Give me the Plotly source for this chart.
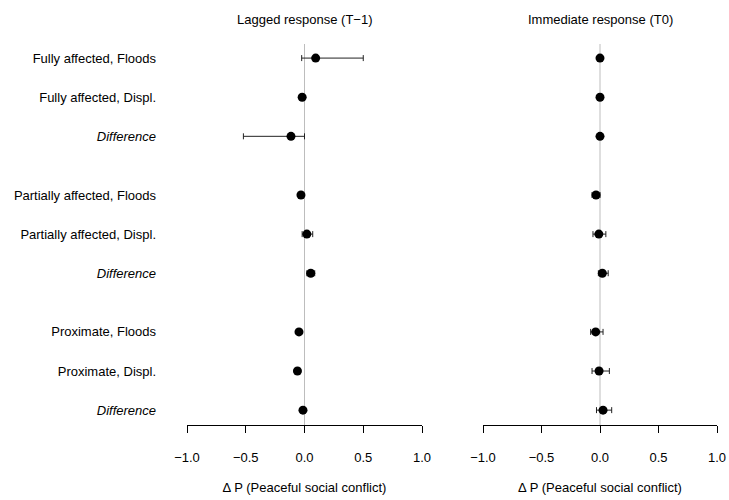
import plotly.graph_objects as go

labels = ["Fully affected, Floods", "Fully affected, Displ.", "<i>Difference</i>",
          "Partially affected, Floods", "Partially affected, Displ.", "<i>Difference</i>",
          "Proximate, Floods", "Proximate, Displ.", "<i>Difference</i>"]
rows = [0, 1, 2, 3.5, 4.5, 5.5, 7, 8, 9]

lag_est = [0.095, -0.02, -0.115, -0.03, 0.02, 0.053, -0.047, -0.06, -0.013]
lag_lo = [-0.024, -0.035, -0.52, -0.045, -0.02, 0.02, -0.062, -0.075, -0.02]
lag_hi = [0.50, -0.005, 0.0, -0.015, 0.07, 0.087, -0.032, -0.045, -0.006]

imm_est = [0.0, 0.0, 0.0, -0.034, -0.01, 0.02, -0.037, -0.008, 0.026]
imm_lo = [-0.005, -0.005, -0.005, -0.068, -0.06, -0.014, -0.08, -0.068, -0.03]
imm_hi = [0.005, 0.005, 0.005, 0.0, 0.05, 0.07, 0.026, 0.08, 0.10]

xticks = [-1.0, -0.5, 0.0, 0.5, 1.0]
xticktext = ["\u22121.0", "\u22120.5", "0.0", "0.5", "1.0"]
titles = ["Lagged response (T\u22121)", "Immediate response (T0)"]
xlabel = "\u0394 P (Peaceful social conflict)"

FONT = "Liberation Sans, Arial, sans-serif"
FS = 13
fig = go.Figure()

for i in range(2):
    sfx = "" if i == 0 else "2"
    fig.add_shape(type="line", xref="x" + sfx, yref="y" + sfx + " domain",
                  x0=0, x1=0, y0=0, y1=1, layer="below",
                  line=dict(color="#bdbdbd", width=1))

for i, (est, lo, hi) in enumerate([(lag_est, lag_lo, lag_hi), (imm_est, imm_lo, imm_hi)]):
    sfx = "" if i == 0 else "2"
    fig.add_trace(go.Scatter(
        x=est, y=rows, mode="markers",
        marker=dict(color="black", size=9),
        error_x=dict(type="data", symmetric=False,
                     array=[h - e for h, e in zip(hi, est)],
                     arrayminus=[e - l for e, l in zip(est, lo)],
                     color="#222222", thickness=1, width=3),
        xaxis="x" + sfx, yaxis="y" + sfx, showlegend=False, cliponaxis=False))

common_x = dict(range=[-1, 1], tickvals=xticks, ticktext=xticktext,
                showline=True, linecolor="black", linewidth=1,
                ticks="outside", ticklen=7, tickcolor="black", tickwidth=1,
                showgrid=False, zeroline=False,
                ticklabelstandoff=13, automargin=False,
                tickfont=dict(size=FS, color="black"),
                title=dict(text=xlabel, font=dict(size=FS, color="black"), standoff=19),
                fixedrange=True)
common_y = dict(range=[9.38, -0.36], showgrid=False, zeroline=False, showline=False,
                automargin=False, fixedrange=True)

fig.update_layout(
    width=729, height=500,
    margin=dict(l=0, r=0, t=44, b=75),
    plot_bgcolor="white", paper_bgcolor="white",
    font=dict(family=FONT, size=FS, color="black"),
    xaxis=dict(domain=[187/729, 422/729], anchor="y", **common_x),
    xaxis2=dict(domain=[483/729, 717/729], anchor="y2", **common_x),
    yaxis=dict(anchor="x", tickvals=rows, ticktext=labels, ticks="",
               ticklabelstandoff=30, tickfont=dict(size=FS, color="black"),
               **common_y),
    yaxis2=dict(anchor="x2", showticklabels=False, ticks="", **common_y),
)

for i, t in enumerate(titles):
    sfx = "" if i == 0 else "2"
    fig.add_annotation(text=t, xref="x" + sfx + " domain", yref="paper",
                       x=0.5, y=1, yshift=44 - 18 + 8.5, yanchor="top",
                       showarrow=False, font=dict(size=FS, color="black"))

fig.write_html("out.html", config={"displayModeBar": False},
               post_script="document.body.style.margin='0';document.body.style.overflow='hidden';")
